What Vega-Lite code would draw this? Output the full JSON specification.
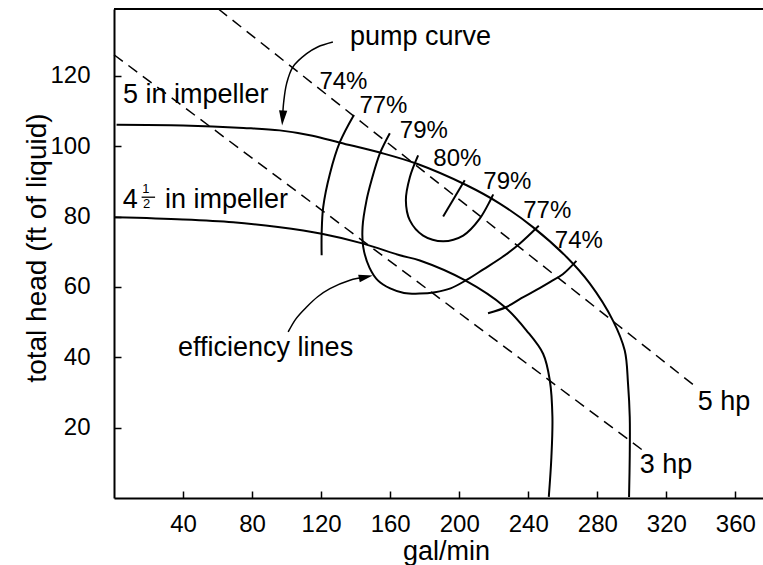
{
  "$schema": "https://vega.github.io/schema/vega-lite/v6.json",
  "width": 649,
  "height": 489,
  "autosize": {"type": "none"},
  "padding": {"left": 114, "top": 9, "right": 0, "bottom": 67},
  "background": "white",
  "config": {"view": {"stroke": null}, "font": "Liberation Sans"},
  "datasets": {
    "frame": [{"x": 0, "x2": 376, "y": 139}],
    "power": [
      {"s": "5hp", "i": 0, "x": 60.5, "y": 139},
      {"s": "5hp", "i": 1, "x": 337.4, "y": 31.5},
      {"s": "3hp", "i": 0, "x": 0, "y": 126},
      {"s": "3hp", "i": 1, "x": 306.5, "y": 13.5}
    ],
    "curves": [
      {"s": "5in", "i": 0, "x": 1.5, "y": 106.1},
      {"s": "5in", "i": 1, "x": 40, "y": 105.9},
      {"s": "5in", "i": 2, "x": 75, "y": 105.2},
      {"s": "5in", "i": 3, "x": 96, "y": 104.5},
      {"s": "5in", "i": 4, "x": 115, "y": 103.0},
      {"s": "5in", "i": 5, "x": 131, "y": 101.0},
      {"s": "5in", "i": 6, "x": 154, "y": 98.2},
      {"s": "5in", "i": 7, "x": 175.5, "y": 95.0},
      {"s": "5in", "i": 8, "x": 204.3, "y": 88.9},
      {"s": "5in", "i": 9, "x": 223.5, "y": 83.7},
      {"s": "5in", "i": 10, "x": 242.7, "y": 77.0},
      {"s": "5in", "i": 11, "x": 262.2, "y": 68.5},
      {"s": "5in", "i": 12, "x": 275.6, "y": 61.0},
      {"s": "5in", "i": 13, "x": 289, "y": 50.5},
      {"s": "5in", "i": 14, "x": 295.9, "y": 41.9},
      {"s": "5in", "i": 15, "x": 297.8, "y": 32.5},
      {"s": "5in", "i": 16, "x": 298.8, "y": 23},
      {"s": "5in", "i": 17, "x": 298.8, "y": 12},
      {"s": "5in", "i": 18, "x": 298.4, "y": 0.3},
      {"s": "45in", "i": 0, "x": 0.6, "y": 79.8},
      {"s": "45in", "i": 1, "x": 40, "y": 79.2},
      {"s": "45in", "i": 2, "x": 69, "y": 78.4},
      {"s": "45in", "i": 3, "x": 95, "y": 77.0},
      {"s": "45in", "i": 4, "x": 120.3, "y": 75.1},
      {"s": "45in", "i": 5, "x": 144.4, "y": 72.3},
      {"s": "45in", "i": 6, "x": 165.6, "y": 69.0},
      {"s": "45in", "i": 7, "x": 177.2, "y": 67.5},
      {"s": "45in", "i": 8, "x": 203.2, "y": 61.9},
      {"s": "45in", "i": 9, "x": 226.4, "y": 54.3},
      {"s": "45in", "i": 10, "x": 239, "y": 47.6},
      {"s": "45in", "i": 11, "x": 248.6, "y": 41.0},
      {"s": "45in", "i": 12, "x": 252.5, "y": 33.4},
      {"s": "45in", "i": 13, "x": 254, "y": 23},
      {"s": "45in", "i": 14, "x": 253.4, "y": 11.6},
      {"s": "45in", "i": 15, "x": 251.9, "y": 0.3},
      {"s": "e74L", "i": 0, "x": 139.0, "y": 108.9},
      {"s": "e74L", "i": 1, "x": 130.9, "y": 101.2},
      {"s": "e74L", "i": 2, "x": 125.1, "y": 92.2},
      {"s": "e74L", "i": 3, "x": 121.2, "y": 82.7},
      {"s": "e74L", "i": 4, "x": 120.3, "y": 75.1},
      {"s": "e74L", "i": 5, "x": 120.3, "y": 69.0},
      {"s": "e77", "i": 0, "x": 159.8, "y": 103.7},
      {"s": "e77", "i": 1, "x": 154.0, "y": 97.9},
      {"s": "e77", "i": 2, "x": 149.2, "y": 90.3},
      {"s": "e77", "i": 3, "x": 146.3, "y": 84.6},
      {"s": "e77", "i": 4, "x": 144.0, "y": 77.0},
      {"s": "e77", "i": 5, "x": 144.4, "y": 71.3},
      {"s": "e77", "i": 6, "x": 148, "y": 65.5},
      {"s": "e77", "i": 7, "x": 153, "y": 61.8},
      {"s": "e77", "i": 8, "x": 160, "y": 59.6},
      {"s": "e77", "i": 9, "x": 168, "y": 58.3},
      {"s": "e77", "i": 10, "x": 177, "y": 58.1},
      {"s": "e77", "i": 11, "x": 186, "y": 58.5},
      {"s": "e77", "i": 12, "x": 195, "y": 59.6},
      {"s": "e77", "i": 13, "x": 204, "y": 61.9},
      {"s": "e77", "i": 14, "x": 214, "y": 65.0},
      {"s": "e77", "i": 15, "x": 225, "y": 68.5},
      {"s": "e77", "i": 16, "x": 235, "y": 72.3},
      {"s": "e77", "i": 17, "x": 246.1, "y": 77.4},
      {"s": "e79", "i": 0, "x": 176.2, "y": 97.4},
      {"s": "e79", "i": 1, "x": 171.4, "y": 91.2},
      {"s": "e79", "i": 2, "x": 169.1, "y": 84.6},
      {"s": "e79", "i": 3, "x": 171.4, "y": 78.9},
      {"s": "e79", "i": 4, "x": 179.1, "y": 74.6},
      {"s": "e79", "i": 5, "x": 190.7, "y": 73.0},
      {"s": "e79", "i": 6, "x": 202.3, "y": 74.6},
      {"s": "e79", "i": 7, "x": 211.9, "y": 79.4},
      {"s": "e79", "i": 8, "x": 219.7, "y": 86.3},
      {"s": "e80", "i": 0, "x": 190.7, "y": 80.0},
      {"s": "e80", "i": 1, "x": 203.2, "y": 90.3},
      {"s": "e74R", "i": 0, "x": 216.7, "y": 52.5},
      {"s": "e74R", "i": 1, "x": 227.4, "y": 54.3},
      {"s": "e74R", "i": 2, "x": 236, "y": 56.8},
      {"s": "e74R", "i": 3, "x": 245, "y": 59.2},
      {"s": "e74R", "i": 4, "x": 253, "y": 61.5},
      {"s": "e74R", "i": 5, "x": 260, "y": 63.6},
      {"s": "e74R", "i": 6, "x": 267.9, "y": 67.4}
    ],
    "arrows": [
      {"s": "pump", "i": 0, "x": 126.8, "y": 129.6},
      {"s": "pump", "i": 1, "x": 118, "y": 128.2},
      {"s": "pump", "i": 2, "x": 111.6, "y": 126.3},
      {"s": "pump", "i": 3, "x": 103.6, "y": 122.5},
      {"s": "pump", "i": 4, "x": 100, "y": 117.8},
      {"s": "pump", "i": 5, "x": 98.3, "y": 112.5},
      {"s": "pump", "i": 6, "x": 97.7, "y": 108.5},
      {"s": "eff", "i": 0, "x": 100.9, "y": 47.2},
      {"s": "eff", "i": 1, "x": 105.5, "y": 51.0},
      {"s": "eff", "i": 2, "x": 111.6, "y": 54.3},
      {"s": "eff", "i": 3, "x": 118, "y": 57.2},
      {"s": "eff", "i": 4, "x": 125.1, "y": 59.5},
      {"s": "eff", "i": 5, "x": 136.7, "y": 61.9},
      {"s": "eff", "i": 6, "x": 145.9, "y": 62.8}
    ],
    "heads": [
      {"s": "pump", "x": 97.7, "y": 108.0},
      {"s": "eff", "x": 145.9, "y": 62.8}
    ],
    "labels": [
      {"t": "pump curve", "x": 136.7, "y": 128.7},
      {"t": "5 in impeller", "x": 5.2, "y": 112.2},
      {"t": "4", "x": 5.0, "y": 82.3},
      {"t": "in impeller", "x": 29.5, "y": 82.3},
      {"t": "efficiency lines", "x": 37.1, "y": 40.3},
      {"t": "5 hp", "x": 338.2, "y": 24.9},
      {"t": "3 hp", "x": 304.6, "y": 7.1}
    ],
    "pct": [
      {"t": "74%", "x": 132.9, "y": 116.4},
      {"t": "77%", "x": 156.1, "y": 109.3},
      {"t": "79%", "x": 179.5, "y": 102.2},
      {"t": "80%", "x": 198.9, "y": 94.3},
      {"t": "79%", "x": 227.9, "y": 87.9},
      {"t": "77%", "x": 251.0, "y": 79.5},
      {"t": "74%", "x": 269.3, "y": 71.2}
    ],
    "frac": [
      {"t": "1", "x": 18.5, "y": 86.6},
      {"t": "2", "x": 18.9, "y": 82.3}
    ],
    "fracbar": [{"x": 16.0, "x2": 23.8, "y": 85.5}]
  },
  "encoding": {
    "x": {
      "field": "x",
      "type": "quantitative",
      "scale": {"domain": [0, 376], "nice": false, "zero": false},
      "axis": {
        "title": "gal/min",
        "values": [40, 80, 120, 160, 200, 240, 280, 320, 360],
        "grid": false,
        "domainColor": "black",
        "domainWidth": 2,
        "tickColor": "black",
        "tickWidth": 1.5,
        "tickSize": -7,
        "labelPadding": 21,
        "labelFont": "Liberation Sans",
        "labelFontSize": 24,
        "labelColor": "black",
        "titleFont": "Liberation Sans",
        "titleFontSize": 27,
        "titleFontWeight": "normal",
        "titleColor": "black",
        "titleX": 332,
        "titleY": 61.5,
        "titleAlign": "center",
        "titleBaseline": "alphabetic"
      }
    },
    "y": {
      "field": "y",
      "type": "quantitative",
      "scale": {"domain": [0, 139], "nice": false, "zero": false},
      "axis": {
        "title": "total head (ft of liquid)",
        "values": [20, 40, 60, 80, 100, 120],
        "grid": false,
        "domainColor": "black",
        "domainWidth": 2,
        "tickColor": "black",
        "tickWidth": 1.5,
        "tickSize": -7,
        "labelPadding": 31,
        "labelFont": "Liberation Sans",
        "labelFontSize": 24,
        "labelColor": "black",
        "titleFont": "Liberation Sans",
        "titleFontSize": 28,
        "titleFontWeight": "normal",
        "titleColor": "black",
        "titleAngle": 270,
        "titleX": -69,
        "titleY": 238.5,
        "titleAlign": "center",
        "titleBaseline": "alphabetic"
      }
    }
  },
  "layer": [
    {
      "data": {"name": "frame"},
      "mark": {"type": "rule", "color": "black", "strokeWidth": 2},
      "encoding": {"x2": {"field": "x2"}}
    },
    {
      "data": {"name": "power"},
      "mark": {"type": "line", "color": "black", "strokeWidth": 1.5, "strokeDash": [11, 7]},
      "encoding": {"detail": {"field": "s"}, "order": {"field": "i"}}
    },
    {
      "data": {"name": "curves"},
      "mark": {"type": "line", "color": "black", "strokeWidth": 2, "interpolate": "catmull-rom"},
      "encoding": {"detail": {"field": "s"}, "order": {"field": "i"}}
    },
    {
      "data": {"name": "arrows"},
      "mark": {"type": "line", "color": "black", "strokeWidth": 1.5, "interpolate": "catmull-rom"},
      "encoding": {"detail": {"field": "s"}, "order": {"field": "i"}}
    },
    {
      "data": {"name": "heads"},
      "transform": [{"filter": "datum.s == 'pump'"}],
      "mark": {"type": "point", "shape": "M-0.55,-1L0.55,-1L0,1Z", "filled": true, "color": "black", "opacity": 1, "size": 225, "angle": 4}
    },
    {
      "data": {"name": "heads"},
      "transform": [{"filter": "datum.s == 'eff'"}],
      "mark": {"type": "point", "shape": "M-0.55,-1L0.55,-1L0,1Z", "filled": true, "color": "black", "opacity": 1, "size": 196, "angle": -102}
    },
    {
      "data": {"name": "labels"},
      "mark": {"type": "text", "align": "left", "baseline": "alphabetic", "fontSize": 27, "font": "Liberation Sans", "color": "black"},
      "encoding": {"text": {"field": "t"}}
    },
    {
      "data": {"name": "pct"},
      "mark": {"type": "text", "align": "center", "baseline": "alphabetic", "fontSize": 24, "font": "Liberation Sans", "color": "black"},
      "encoding": {"text": {"field": "t"}}
    },
    {
      "data": {"name": "frac"},
      "mark": {"type": "text", "align": "center", "baseline": "alphabetic", "fontSize": 13, "font": "Liberation Sans", "color": "black"},
      "encoding": {"text": {"field": "t"}}
    },
    {
      "data": {"name": "fracbar"},
      "mark": {"type": "rule", "color": "black", "strokeWidth": 1.3},
      "encoding": {"x2": {"field": "x2"}}
    }
  ]
}
